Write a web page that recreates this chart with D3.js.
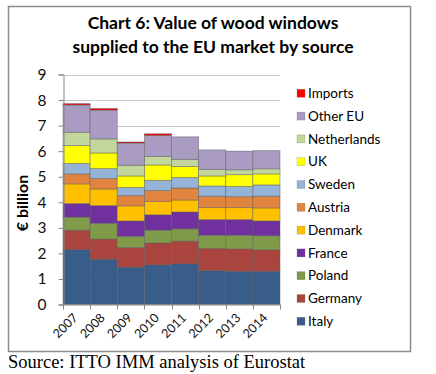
<!DOCTYPE html>
<html><head><meta charset="utf-8">
<script src="https://cdn.jsdelivr.net/npm/d3@7"></script>
<style>body{margin:0;background:#fff}svg{display:block}</style>
</head><body>
<svg id="c" width="436" height="374"></svg>
<script>
const years = ["2007","2008","2009","2010","2011","2012","2013","2014"];
const seriesNames = ["Italy","Germany","Poland","France","Denmark","Austria","Sweden","UK","Netherlands","Other EU","Imports"];
const italy       = [2.15,1.77,1.46,1.55,1.59,1.33,1.30,1.30];
const germany     = [0.76,0.79,0.77,0.86,0.89,0.87,0.88,0.84];
const poland      = [0.51,0.62,0.44,0.50,0.48,0.51,0.53,0.55];
const france      = [0.53,0.69,0.60,0.60,0.66,0.61,0.61,0.58];
const denmark     = [0.77,0.65,0.59,0.52,0.47,0.47,0.47,0.51];
const austria     = [0.39,0.41,0.40,0.43,0.47,0.45,0.43,0.46];
const sweden      = [0.41,0.39,0.32,0.40,0.41,0.40,0.40,0.44];
const uk          = [0.70,0.61,0.45,0.60,0.43,0.39,0.46,0.43];
const netherlands = [0.52,0.55,0.42,0.33,0.28,0.25,0.19,0.20];
const otherEU     = [1.07,1.13,0.87,0.83,0.88,0.77,0.73,0.71];
const imports     = [0.05,0.06,0.04,0.06,0.00,0.00,0.00,0.00];
const seriesValues = [italy,germany,poland,france,denmark,austria,sweden,uk,netherlands,otherEU,imports];
const colors = ["#385D8A","#A9443F","#7F9A48","#7030A0","#FFC000","#E0843F","#95B3D7","#FFFF00","#C3D69B","#A99BC1","#FF0000"];
const yTicks = [0,1,2,3,4,5,6,7,8,9];
const titleLines = ["Chart 6: Value of wood windows","supplied to the EU market by source"];
const yTitle = "€ billion";
const sourceText = "Source: ITTO IMM analysis of Eurostat";

const svg = d3.select("#c");
const FONT = "Lato, 'Open Sans', sans-serif";

svg.append("rect").attr("x",8.5).attr("y",6.5).attr("width",402).attr("height",345)
  .attr("fill","#fff").attr("stroke","#8c8c8c").attr("stroke-width",1.5);

const x = d3.scaleBand().domain(years).range([63,280]).padding(0);
const y = d3.scaleLinear().domain([0,9]).range([304.5,74.5]);

// gridlines
svg.append("g").selectAll("line").data(yTicks.slice(1)).join("line")
  .attr("x1",63).attr("x2",280).attr("y1",d=>Math.round(y(d))+0.5).attr("y2",d=>Math.round(y(d))+0.5)
  .attr("stroke","#c8c8c8").attr("stroke-width",1);

// stacked data
const table = years.map((yr,i)=>{const o={year:yr};seriesNames.forEach((s,j)=>o[s]=seriesValues[j][i]);return o;});
const stacked = d3.stack().keys(seriesNames)(table);

svg.append("g").selectAll("g").data(stacked).join("g")
  .attr("fill",(d,i)=>colors[i])
  .selectAll("rect").data(d=>d).join("rect")
  .attr("x",d=>x(d.data.year)).attr("width",x.bandwidth())
  .attr("y",d=>y(d[1])).attr("height",d=>Math.max(0,y(d[0])-y(d[1])))
  .attr("stroke","rgba(90,90,90,0.55)").attr("stroke-width",0.8);

// y axis
const yAxis = d3.axisLeft(y).tickValues(yTicks).tickSize(5).tickPadding(12).tickFormat(d3.format("d"));
const ya = svg.append("g").attr("transform","translate(63.5,0)").call(yAxis);
ya.select(".domain").attr("stroke","#868686");
ya.selectAll(".tick line").attr("stroke","#868686");
ya.selectAll(".tick text").attr("font-family",FONT).attr("font-size",15.5).attr("fill","#111");

// x axis
const xAxis = d3.axisBottom(x).tickSize(5).tickSizeOuter(0);
const xa = svg.append("g").attr("transform","translate(0,304.5)").call(xAxis);
xa.select(".domain").attr("stroke","#868686");
xa.selectAll(".tick line").remove();
xa.selectAll(".bound").data(d3.range(years.length+1)).join("line")
  .attr("x1",i=>Math.round(63+i*x.step())+0.5).attr("x2",i=>Math.round(63+i*x.step())+0.5)
  .attr("y1",0).attr("y2",5).attr("stroke","#868686");
xa.selectAll(".tick text").attr("font-family",FONT).attr("font-size",12.5).attr("fill","#111")
  .attr("text-anchor","end").attr("dy",0).attr("y",0)
  .attr("transform","translate(2,14) rotate(-45)");

// y title
svg.append("text").attr("transform","translate(28,203) rotate(-90)")
  .attr("text-anchor","middle").attr("font-family",FONT).attr("font-weight","bold")
  .attr("font-size",16).text(yTitle);

// title
svg.append("g").selectAll("text").data(titleLines).join("text")
  .attr("x",213).attr("y",(d,i)=>29+i*24).attr("text-anchor","middle")
  .attr("font-family",FONT).attr("font-weight","bold").attr("font-size",17.5).text(d=>d);

// legend (reverse order)
const legOrder = seriesNames.map((s,i)=>i).reverse();
const lg = svg.append("g").selectAll("g").data(legOrder).join("g")
  .attr("transform",(d,k)=>`translate(297,${93.3+k*22.8})`);
lg.append("rect").attr("x",0).attr("y",-4).attr("width",8).attr("height",8)
  .attr("fill",d=>colors[d]).attr("stroke","rgba(90,90,90,0.4)").attr("stroke-width",0.5);
lg.append("text").attr("x",11).attr("y",0).attr("dy","0.35em")
  .attr("font-family",FONT).attr("font-size",13.5).text(d=>seriesNames[d]);

// source
svg.append("text").attr("x",8).attr("y",368).attr("font-family","'Liberation Serif', 'Times New Roman', serif")
  .attr("font-size",18.5).text(sourceText);
</script>
</body></html>
